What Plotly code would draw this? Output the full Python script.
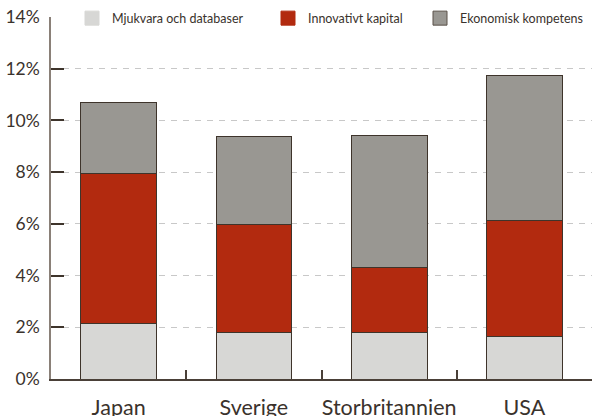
import plotly.graph_objects as go

countries = ["Japan", "Sverige", "Storbritannien", "USA"]
mjukvara = [2.15, 1.81, 1.79, 1.63]
innovativt = [5.78, 4.15, 2.54, 4.50]
ekonomisk = [2.77, 3.41, 5.08, 5.60]
series_names = ["Mjukvara och databaser", "Innovativt kapital", "Ekonomisk kompetens"]
y_ticks = [0, 2, 4, 6, 8, 10, 12, 14]
y_tick_text = ["0%", "2%", "4%", "6%", "8%", "10%", "12%", "14%"]
grid_vals = [2, 4, 6, 8, 10, 12]

colors = ["#d7d7d5", "#b22a0f", "#999792"]
edge = "#3e342b"
font_family = "Lato, 'Open Sans', sans-serif"
text_color = "#3a322c"

W, H = 592, 416
ML, MR, MT, MB = 51, 0, 17, 37
PW, PH = W - ML - MR, H - MT - MB

fig = go.Figure()
for i, (name, vals) in enumerate(zip(series_names, [mjukvara, innovativt, ekonomisk])):
    fig.add_trace(go.Bar(
        x=countries, y=vals, name=name, width=0.56,
        marker=dict(color=colors[i], line=dict(color=edge, width=1)),
        showlegend=False,
    ))
# legend entries (separate legends for exact placement)
legend_x = [84, 280, 432]
for i, name in enumerate(series_names):
    lg = "legend" if i == 0 else f"legend{i+1}"
    fig.add_trace(go.Scatter(
        x=[None], y=[None], mode="markers", name=name, legend=lg,
        marker=dict(symbol="square", size=14, color=colors[i],
                    line=dict(color="#5a5048" if i == 2 else colors[i], width=1)),
    ))

# invisible trace on the grid axis
fig.add_trace(go.Scatter(x=[None], y=[None], yaxis="y2", showlegend=False))

layout_legends = {}
for i in range(3):
    key = "legend" if i == 0 else f"legend{i+1}"
    layout_legends[key] = dict(
        orientation="h", xref="paper", yref="paper", yanchor="middle", xanchor="left",
        x=(legend_x[i] - 12 - ML) / PW, y=1 + (MT - 18.5) / PH,
        font=dict(family=font_family, size=12.5, color=text_color),
        bgcolor="rgba(0,0,0,0)", borderwidth=0, itemclick=False,
    )

fig.update_layout(
    width=W, height=H,
    margin=dict(l=ML, r=MR, t=MT, b=MB, autoexpand=False),
    paper_bgcolor="white", plot_bgcolor="white",
    barmode="stack",
    font=dict(family=font_family, color=text_color),
    xaxis=dict(
        range=[-0.5, 3.5], showgrid=False, showline=True, linecolor="#4a4038", linewidth=1.5,
        ticks="inside", tickson="boundaries", ticklen=9, tickcolor="#4a4038", tickwidth=1.5,
        tickfont=dict(size=21.5, color=text_color, family=font_family), tickangle=0,
        ticklabelstandoff=8, zeroline=False, automargin=False,
    ),
    yaxis=dict(
        range=[0, 14], tickvals=y_ticks, ticktext=y_tick_text, showgrid=False,
        showline=True, linecolor="#8a8078", linewidth=1.5,
        ticks="inside", ticklen=13, tickcolor="#3e342b", tickwidth=1.5,
        tickfont=dict(size=17.5, color=text_color, family=font_family),
        ticklabelstandoff=6, zeroline=False, automargin=False,
    ),
    yaxis2=dict(
        range=[0, 14], overlaying="y", tickvals=grid_vals, showticklabels=False,
        showgrid=True, gridcolor="#c8c8c8", gridwidth=1, griddash="6px,6px",
        ticks="", showline=False, zeroline=False, layer="below traces", automargin=False,
    ),
    **layout_legends,
)
fig.write_html("out.html", config={"displayModeBar": False},
               post_script="document.body.style.margin='0';")
